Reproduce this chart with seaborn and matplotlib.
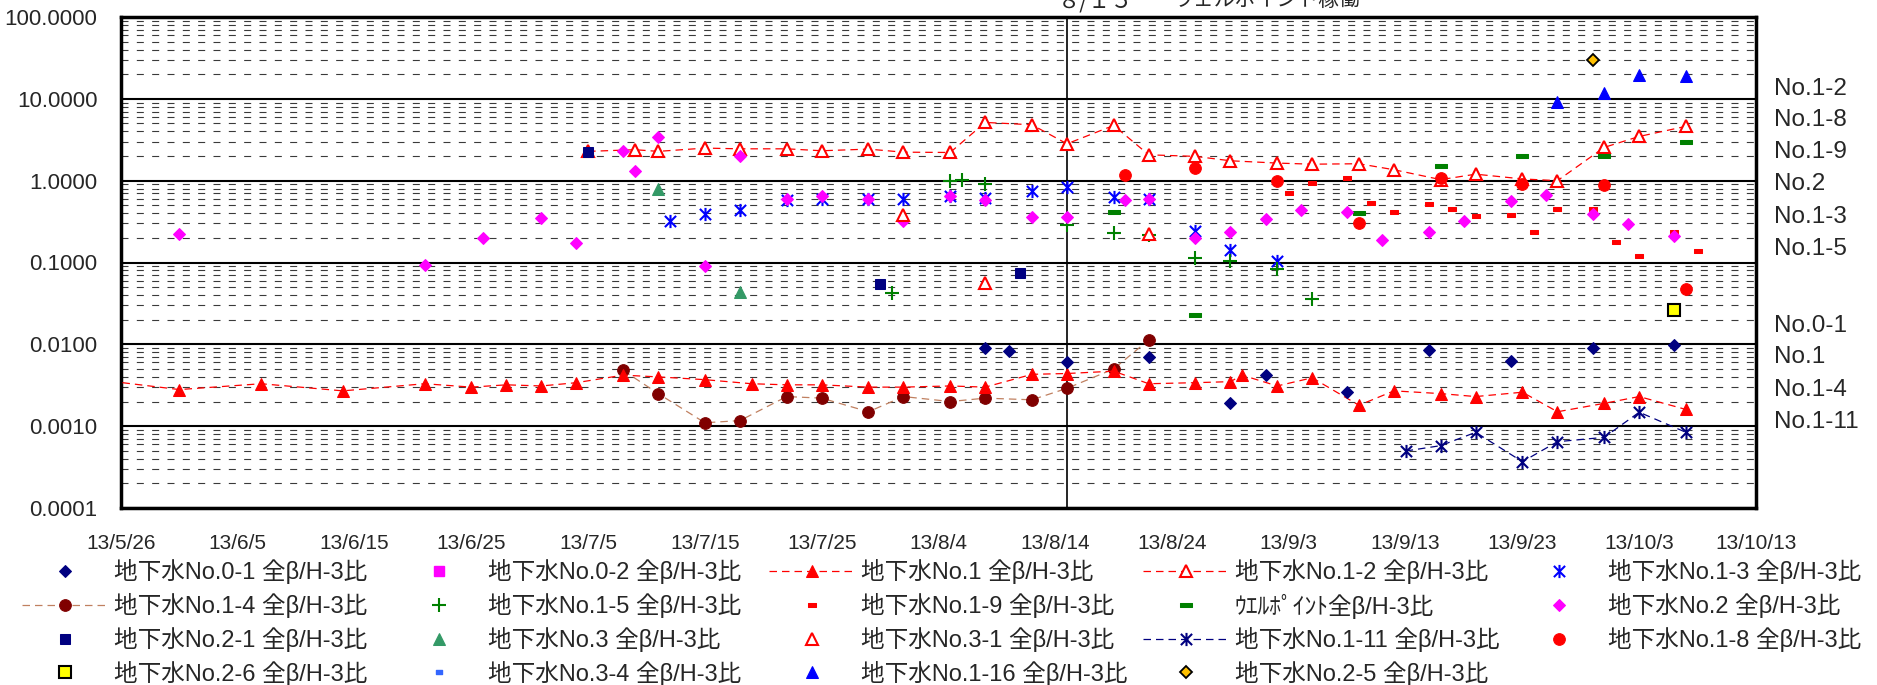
import numpy as np
import pandas as pd
import matplotlib
matplotlib.use("Agg")
import matplotlib.pyplot as plt
import matplotlib.dates as mdates
import matplotlib.ticker as mticker
from matplotlib.path import Path
from matplotlib.lines import Line2D
import seaborn as sns

# ---------------- data (days counted from 2013-05-26) ----------------
BASE = pd.Timestamp("2013-05-26")
SPAN_DAYS = 140
WELLPOINT_DAY = 81  # 8/15

no01_days = [74, 76, 81, 88, 95, 98, 105, 112, 119, 126, 133]
no01_vals = [0.0090, 0.0084, 0.0060, 0.0071, 0.0019, 0.0042, 0.0026, 0.0086, 0.0063, 0.0090, 0.0098]

no02_days = []
no02_vals = []

no1_days = [-2, 5, 12, 19, 26, 30, 33, 36, 39, 43, 46, 50, 54, 57, 60, 64, 67, 71, 74, 78, 81,
            85, 88, 92, 95, 96, 99, 102, 106, 109, 113, 116, 120, 123, 127, 130, 134]
no1_vals = [0.0037, 0.0028, 0.0033, 0.0027, 0.0033, 0.0030, 0.0032, 0.0031, 0.0034, 0.0042, 0.0040,
            0.0037, 0.0033, 0.0032, 0.0032, 0.0030, 0.0030, 0.0031, 0.0030, 0.0043, 0.0044,
            0.0047, 0.0033, 0.0034, 0.0035, 0.0042, 0.0031, 0.0039, 0.0018, 0.0027, 0.0025,
            0.0023, 0.0026, 0.0015, 0.0019, 0.0023, 0.0016]

no12_days = [40, 44, 46, 50, 53, 57, 60, 64, 67, 71, 74, 78, 81, 85, 88, 92, 95, 99, 102, 106,
             109, 113, 116, 120, 123, 127, 130, 134]
no12_vals = [2.28, 2.39, 2.28, 2.50, 2.45, 2.45, 2.32, 2.43, 2.23, 2.21, 5.15, 4.82, 2.82, 4.73,
             2.07, 1.98, 1.75, 1.64, 1.59, 1.61, 1.36, 1.03, 1.20, 1.05, 1.00, 2.55, 3.47, 4.61]

no13_days = [47, 50, 53, 57, 60, 64, 67, 71, 74, 78, 81, 85, 88, 92, 95, 99]
no13_vals = [0.317, 0.394, 0.441, 0.584, 0.594, 0.594, 0.594, 0.641, 0.611, 0.758, 0.826, 0.624,
             0.594, 0.244, 0.143, 0.103]

no14_days = [43, 46, 50, 53, 57, 60, 64, 67, 71, 74, 78, 81, 85, 88]
no14_vals = [0.0048, 0.0025, 0.0011, 0.00117, 0.0023, 0.0022, 0.0015, 0.0023, 0.0020, 0.0022,
             0.0021, 0.0029, 0.0050, 0.0113]

no15_days = [66, 71, 72, 74, 81, 85, 88, 92, 95, 99, 102]
no15_vals = [0.042, 0.996, 1.03, 0.916, 0.288, 0.228, 0.218, 0.113, 0.103, 0.083, 0.036]

no19_days = [100, 102, 105, 107, 109, 112, 114, 116, 119, 121, 123, 126, 128, 130, 133, 135]
no19_vals = [0.705, 0.933, 1.07, 0.531, 0.412, 0.516, 0.453, 0.365, 0.383, 0.235, 0.449, 0.449,
             0.180, 0.119, 0.239, 0.140]

wp_days = [85, 92, 106, 113, 120, 127, 134]
wp_vals = [0.412, 0.0229, 0.401, 1.53, 2.03, 2.03, 3.01]

no2_days = [5, 26, 31, 36, 39, 43, 44, 46, 50, 53, 57, 60, 64, 67, 71, 74, 78, 81, 86, 88, 92,
            95, 98, 101, 105, 108, 112, 115, 119, 122, 126, 129, 133]
no2_vals = [0.222, 0.0935, 0.198, 0.348, 0.172, 2.32, 1.33, 3.40, 0.0918, 2.01, 0.600, 0.653,
            0.600, 0.326, 0.641, 0.584, 0.358, 0.358, 0.573, 0.594, 0.198, 0.235, 0.342, 0.441,
            0.409, 0.186, 0.235, 0.326, 0.557, 0.659, 0.390, 0.297, 0.208]

no21_days = [40, 65, 77]
no21_vals = [2.23, 0.0543, 0.0753]

no3_days = [46, 53]
no3_vals = [0.787, 0.0434]

no31_days = [67, 74, 88]
no31_vals = [0.383, 0.0569, 0.222]

no111_days = [110, 113, 116, 120, 123, 127, 130, 134]
no111_vals = [0.000497, 0.000578, 0.000841, 0.000368, 0.000646, 0.00073, 0.00148, 0.000841]

no18_days = [86, 92, 99, 106, 113, 120, 127, 134]
no18_vals = [1.16, 1.42, 1.00, 0.308, 1.09, 0.909, 0.874, 0.0471]

no26_days = [133]
no26_vals = [0.0264]

no34_days = []
no34_vals = []

no116_days = [123, 127, 130, 134]
no116_vals = [9.12, 11.7, 19.7, 19.2]

no25_days = [126]
no25_vals = [30.1]

y_ticks = [0.0001, 0.001, 0.01, 0.1, 1, 10, 100]
right_labels = ["No.1-2", "No.1-8", "No.1-9", "No.2", "No.1-3", "No.1-5",
                "No.0-1", "No.1", "No.1-4", "No.1-11"]
annot_date = "８/１５"
annot_text = "ウェルポイント稼働"

SFX = " 全β/H-3比"
labels = {
    "0-1": "地下水No.0-1" + SFX, "0-2": "地下水No.0-2" + SFX, "1": "地下水No.1" + SFX,
    "1-2": "地下水No.1-2" + SFX, "1-3": "地下水No.1-3" + SFX, "1-4": "地下水No.1-4" + SFX,
    "1-5": "地下水No.1-5" + SFX, "1-9": "地下水No.1-9" + SFX, "wp": "ｳｴﾙﾎﾟｲﾝﾄ全β/H-3比",
    "2": "地下水No.2" + SFX, "2-1": "地下水No.2-1" + SFX, "3": "地下水No.3" + SFX,
    "3-1": "地下水No.3-1" + SFX, "1-11": "地下水No.1-11" + SFX, "1-8": "地下水No.1-8" + SFX,
    "2-6": "地下水No.2-6" + SFX, "3-4": "地下水No.3-4" + SFX, "1-16": "地下水No.1-16" + SFX,
    "2-5": "地下水No.2-5" + SFX,
}

# ---------------- styles ----------------
ASTER = Path([(0, -1), (0, 1), (-0.85, -0.85), (0.85, 0.85), (-0.85, 0.85), (0.85, -0.85)],
             [Path.MOVETO, Path.LINETO] * 3)
DASH_R = Path([(-1, -0.5), (1, -0.5), (1, 0.5), (-1, 0.5), (-1, -0.5)],
              [Path.MOVETO, Path.LINETO, Path.LINETO, Path.LINETO, Path.CLOSEPOLY])
DASH_G = Path([(-1, -0.3), (1, -0.3), (1, 0.3), (-1, 0.3), (-1, -0.3)],
              [Path.MOVETO, Path.LINETO, Path.LINETO, Path.LINETO, Path.CLOSEPOLY])
DLINE = (0, (6, 4))
NOLINE = "none"

styles = {
    "0-1": dict(marker="D", ms=6.0, color="#000080", mec="#000080", ls=NOLINE),
    "0-2": dict(marker="s", ms=7.5, color="#FF00FF", mec="#FF00FF", ls=NOLINE),
    "1": dict(marker="^", ms=8.8, color="#FF0000", mec="#FF0000", ls=DLINE, lw=0.9),
    "1-2": dict(marker="^", ms=8.8, color="#FF0000", mec="#FF0000", mfc="white", mew=1.5, ls=DLINE, lw=0.9),
    "1-3": dict(marker=ASTER, ms=9.5, color="#0000FF", mec="#0000FF", mew=1.5, ls=NOLINE),
    "1-4": dict(marker="o", ms=8.4, color="#C08060", mfc="#800000", mec="#800000", ls=DLINE, lw=0.9),
    "1-5": dict(marker="+", ms=10, color="#008000", mec="#008000", mew=1.5, ls=NOLINE),
    "1-9": dict(marker=DASH_R, ms=5.5, color="#FF0000", mec="#FF0000", ls=NOLINE),
    "wp": dict(marker=DASH_G, ms=8.5, color="#008000", mec="#008000", ls=NOLINE),
    "2": dict(marker="D", ms=6.0, color="#FF00FF", mec="#FF00FF", ls=NOLINE),
    "2-1": dict(marker="s", ms=7.2, color="#000080", mec="#000080", ls=NOLINE),
    "3": dict(marker="^", ms=8.8, color="#339966", mec="#339966", ls=NOLINE),
    "3-1": dict(marker="^", ms=8.8, color="#FF0000", mec="#FF0000", mfc="white", mew=1.5, ls=NOLINE),
    "1-11": dict(marker=ASTER, ms=9.5, color="#000080", mec="#000080", mew=1.5, ls=DLINE, lw=0.9),
    "1-8": dict(marker="o", ms=8.4, color="#FF0000", mec="#FF0000", ls=NOLINE),
    "2-6": dict(marker="s", ms=8.0, color="#FFFF00", mec="black", mew=1.5, ls=NOLINE),
    "3-4": dict(marker=DASH_R, ms=4.5, color="#3366FF", mec="#3366FF", ls=NOLINE),
    "1-16": dict(marker="^", ms=8.8, color="#0000FF", mec="#0000FF", ls=NOLINE),
    "2-5": dict(marker="D", ms=6.3, color="#FFC000", mec="black", mew=1.3, ls=NOLINE),
}

series = {
    "0-1": (no01_days, no01_vals), "0-2": (no02_days, no02_vals), "1": (no1_days, no1_vals),
    "1-2": (no12_days, no12_vals), "1-3": (no13_days, no13_vals), "1-4": (no14_days, no14_vals),
    "1-5": (no15_days, no15_vals), "1-9": (no19_days, no19_vals), "wp": (wp_days, wp_vals),
    "2": (no2_days, no2_vals), "2-1": (no21_days, no21_vals), "3": (no3_days, no3_vals),
    "3-1": (no31_days, no31_vals), "1-11": (no111_days, no111_vals), "1-8": (no18_days, no18_vals),
    "2-6": (no26_days, no26_vals), "3-4": (no34_days, no34_vals), "1-16": (no116_days, no116_vals),
    "2-5": (no25_days, no25_vals),
}
draw_order = ["1-4", "1", "1-2", "1-11", "0-1", "0-2", "1-3", "1-5", "1-9", "wp", "2", "2-1",
              "3", "3-1", "1-8", "2-6", "3-4", "1-16", "2-5"]
legend_order = ["0-1", "0-2", "1", "1-2", "1-3",
                "1-4", "1-5", "1-9", "wp", "2",
                "2-1", "3", "3-1", "1-11", "1-8",
                "2-6", "3-4", "1-16", "2-5"]

# ---------------- figure ----------------
sns.set_style("white")
plt.rcParams["font.family"] = ["Liberation Sans", "Noto Sans CJK JP"]

W, H = 1877, 685
fig = plt.figure(figsize=(W / 100, H / 100), dpi=100)
L, R, T, B = 121, 1756, 17, 508
ax = fig.add_axes([L / W, 1 - B / H, (R - L) / W, (B - T) / H])


def to_dates(days):
    return BASE + pd.to_timedelta(np.asarray(days, dtype=float), unit="D")


handles = {}
for key in draw_order:
    d, v = series[key]
    st = dict(styles[key])
    ls = st.pop("ls")
    if len(d) == 0:
        h = Line2D([], [], linestyle=ls, **st)
        handles[key] = h
        continue
    df = pd.DataFrame({"date": to_dates(d), "value": v})
    n_before = len(ax.lines)
    sns.lineplot(data=df, x="date", y="value", ax=ax, estimator=None, sort=False,
                 linestyle=ls, label=labels[key], legend=False, zorder=3, clip_on=True, **st)
    handles[key] = ax.lines[n_before]

ax.set_yscale("log")
ax.set_ylim(1e-4, 100)
ax.set_xlim(BASE, BASE + pd.Timedelta(days=SPAN_DAYS))

# y axis
ax.yaxis.set_major_locator(mticker.FixedLocator(y_ticks))
ax.yaxis.set_major_formatter(mticker.FuncFormatter(lambda v, p: f"{v:.4f}"))
ax.yaxis.set_minor_locator(mticker.LogLocator(base=10, subs=np.arange(2, 10), numticks=50))
ax.yaxis.set_minor_formatter(mticker.NullFormatter())
ax.tick_params(axis="y", which="both", length=0, pad=17, labelsize=16)
ax.grid(True, which="major", axis="y", color="black", lw=1.5)
ax.grid(True, which="minor", axis="y", color="#3a3a3a", lw=0.8, linestyle=(0, (6.3, 7.5)))
ax.grid(False, axis="x", which="both")
ax.set_axisbelow(True)

# x axis
major_x = [mdates.date2num(BASE + pd.Timedelta(days=k)) for k in range(0, SPAN_DAYS + 1, 10)]
minor_x = [mdates.date2num(BASE + pd.Timedelta(days=k)) for k in range(5, SPAN_DAYS, 10)]
ax.xaxis.set_major_locator(mticker.FixedLocator(major_x))
ax.xaxis.set_minor_locator(mticker.FixedLocator(minor_x))


def fmt_date(x, pos):
    d = mdates.num2date(x)
    return f"{d.year % 100}/{d.month}/{d.day}"


ax.xaxis.set_major_formatter(mticker.FuncFormatter(fmt_date))
ax.tick_params(axis="x", which="both", direction="in", length=5, width=1.3, color="black",
               labelsize=15, pad=19)
ax.set_xlabel("")
ax.set_ylabel("")
for s in ax.spines.values():
    s.set_visible(True)
    s.set_color("black")
    s.set_linewidth(2.5)

# well point start line
ax.axvline(BASE + pd.Timedelta(days=WELLPOINT_DAY), color="black", lw=1.2, zorder=2)

leg = ax.get_legend()
if leg is not None:
    leg.remove()

# annotation at the top (partly outside the figure like in the reference)
fig.text(1058 / W, 1 - 7 / H, annot_date, fontsize=16, va="baseline", ha="left",
         family=["Noto Sans CJK JP"])
fig.text(1172 / W, 1 - 7 / H, annot_text, fontsize=15, va="baseline", ha="left",
         family=["Noto Sans CJK JP"])

# right-side labels
right_y = [89, 120, 152, 184, 217, 249, 326, 357, 390, 422]
for lab, yy in zip(right_labels, right_y):
    fig.text(1774 / W, 1 - yy / H, lab, fontsize=17.5, va="center", ha="left")

# legend grid: 5 columns x 4 rows
col_text_x = [114, 488, 861, 1235, 1608]
row_y = [572, 606, 640, 673]
FS = 17
fs_px = FS * 100 / 72
hl_px, pad_px = 86, 6
for i, key in enumerate(legend_order):
    r, c = divmod(i, 5)
    x0 = col_text_x[c] - hl_px - pad_px
    fig.legend([handles[key]], [labels[key]], loc="center left",
               bbox_to_anchor=(x0 / W, 1 - row_y[r] / H), bbox_transform=fig.transFigure,
               frameon=False, borderpad=0, borderaxespad=0, numpoints=1,
               handlelength=hl_px / fs_px, handletextpad=pad_px / fs_px, fontsize=FS)

fig.savefig("out.png", dpi=100)
